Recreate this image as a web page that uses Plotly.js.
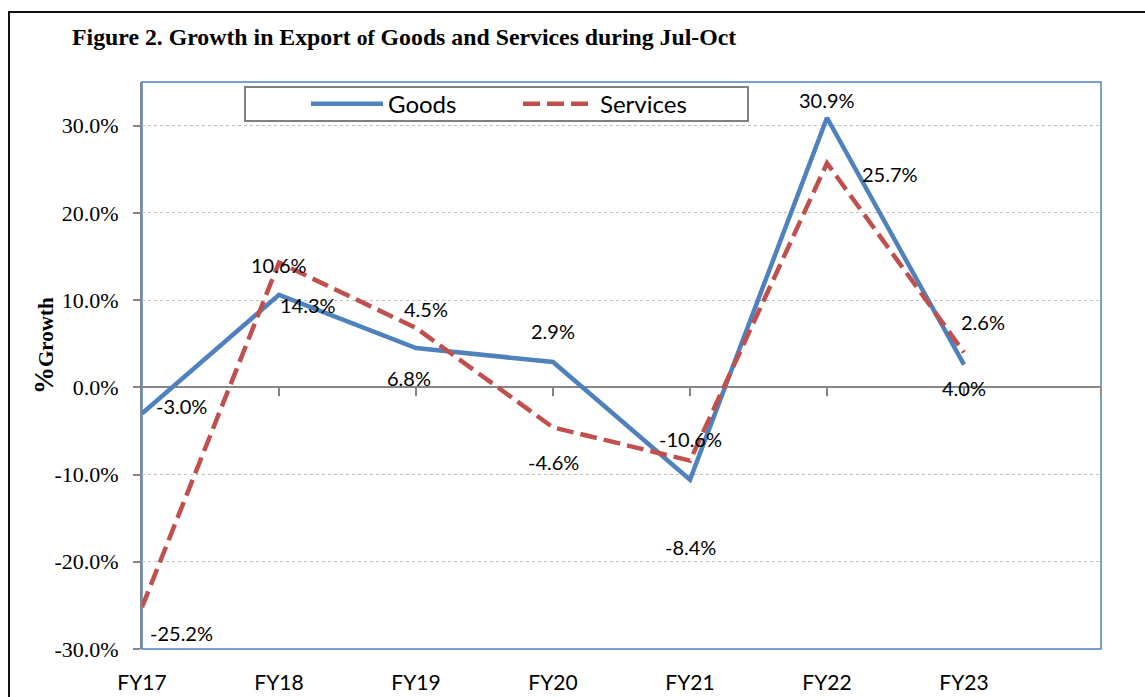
<!DOCTYPE html>
<html>
<head>
<meta charset="utf-8">
<script src="https://cdn.plot.ly/plotly-3.0.1.min.js"></script>
<style>
  html, body { margin: 0; padding: 0; background: #fff; }
  #chart { width: 1145px; height: 697px; position: absolute; left: 0; top: 0; }
  #frame { position: absolute; left: 8px; top: 11px; width: 1200px; height: 800px;
           border-left: 2px solid #111; border-top: 2px solid #111; pointer-events: none; }
</style>
</head>
<body>
<div id="chart"></div>
<div id="frame"></div>
<script>
// ---- data ----
const categories = ['FY17', 'FY18', 'FY19', 'FY20', 'FY21', 'FY22', 'FY23'];
const goods = [-3.0, 10.6, 4.5, 2.9, -10.6, 30.9, 2.6];
const services = [-25.2, 14.3, 6.8, -4.6, -8.4, 25.7, 4.0];
const seriesNames = ['Goods', 'Services'];
const yTickVals = [-30, -20, -10, 0, 10, 20, 30];
const yTickText = yTickVals.map(v => v.toFixed(1) + '%');

// ---- label offsets (pixels: [x, y up]) ----
const goodsLabelShift = [[39, 7], [0, 30], [10, 39], [0, 31], [0, 41], [0, 18], [19, 43]];
const servicesLabelShift = [[39, -26], [29, -42], [-7, -50], [0, -35], [0, -86], [63, -11], [0, -36]];

const BLUE = '#4F81BD';
const RED = '#C0504D';
const SANS = 'Lato, "Open Sans", sans-serif';
const SERIF = '"Liberation Serif", "Times New Roman", serif';

const traces = [
  {
    x: categories, y: goods, name: seriesNames[0], type: 'scatter', mode: 'lines',
    line: { color: BLUE, width: 4.5 }, hoverinfo: 'skip'
  },
  {
    x: categories, y: services, name: seriesNames[1], type: 'scatter', mode: 'lines',
    line: { color: RED, width: 4.5, dash: '17px,7px' }, hoverinfo: 'skip'
  }
];

const annotations = [];
function addLabels(vals, shifts) {
  vals.forEach((v, i) => {
    annotations.push({
      x: categories[i], y: v, xref: 'x', yref: 'y',
      text: v.toFixed(1) + '%', showarrow: false,
      xshift: shifts[i][0], yshift: shifts[i][1],
      xanchor: 'center', yanchor: 'middle',
      font: { family: SANS, size: 20, color: '#000' }
    });
  });
}
addLabels(goods, goodsLabelShift);
addLabels(services, servicesLabelShift);

// y-axis title
annotations.push({
  xref: 'paper', yref: 'paper', x: 0, y: (649 - 345.5) / 567, xshift: -98.5,
  xanchor: 'center', yanchor: 'middle', textangle: -90, showarrow: false,
  text: '<b><span style="font-size:27px">%</span>Growth</b>',
  font: { family: SERIF, size: 21, color: '#000' }
});

const shapes = [
  // plot area border
  { type: 'rect', xref: 'paper', yref: 'paper', x0: 0, x1: 1, y0: 0, y1: 1,
    line: { color: BLUE, width: 1.5 }, layer: 'below' },
  // legend box
  { type: 'rect', xref: 'paper', yref: 'paper', x0: 0.1074, x1: 0.6319, y0: 0.9312, y1: 0.9912,
    line: { color: '#808080', width: 2 }, fillcolor: '#ffffff', layer: 'above' }
];
// category tick marks on the zero line
for (let i = 1; i <= categories.length; i++) {
  shapes.push({
    type: 'line', xref: 'x', yref: 'y', x0: i, x1: i,
    ysizemode: 'pixel', yanchor: 0, y0: 0, y1: -9,
    line: { color: '#868686', width: 2 }, layer: 'above'
  });
}

const layout = {
  width: 1145, height: 697,
  margin: { l: 142, r: 44, t: 82, b: 48 },
  paper_bgcolor: '#fff', plot_bgcolor: '#fff',
  title: {
    text: '<b>Figure 2. Growth in Export <span style="font-size:21.5px">of</span> Goods and Services during Jul-Oct</b>',
    font: { family: SERIF, size: 23.8, color: '#000' },
    xref: 'container', yref: 'container', x: 72 / 1145, xanchor: 'left',
    y: 1 - 37 / 697, yanchor: 'middle'
  },
  showlegend: true,
  legend: {
    orientation: 'h', x: 0.171, y: 0.961, xanchor: 'left', yanchor: 'middle',
    bgcolor: 'rgba(0,0,0,0)', borderwidth: 0,
    font: { family: SANS, size: 24, color: '#000' },
    itemwidth: 72, entrywidth: 125, entrywidthmode: 'pixels'
  },
  xaxis: {
    type: 'category', range: [0, 7], showgrid: false, zeroline: false,
    showline: false, ticks: '', ticklabelstandoff: 19,
    tickfont: { family: SANS, size: 21, color: '#000' }, fixedrange: true
  },
  yaxis: {
    range: [-30, 35], tickvals: yTickVals, ticktext: yTickText,
    showgrid: true, gridcolor: '#BFBFBF', gridwidth: 1, griddash: 'dot',
    zeroline: true, zerolinecolor: '#868686', zerolinewidth: 2,
    showline: true, linecolor: '#868686', linewidth: 2,
    ticks: 'outside', ticklen: 7, tickcolor: '#868686', tickwidth: 2,
    ticklabelstandoff: 10,
    tickfont: { family: SERIF, size: 22, color: '#000' }, fixedrange: true
  },
  annotations: annotations,
  shapes: shapes
};

Plotly.newPlot('chart', traces, layout, { displayModeBar: false, staticPlot: true });
</script>
</body>
</html>
